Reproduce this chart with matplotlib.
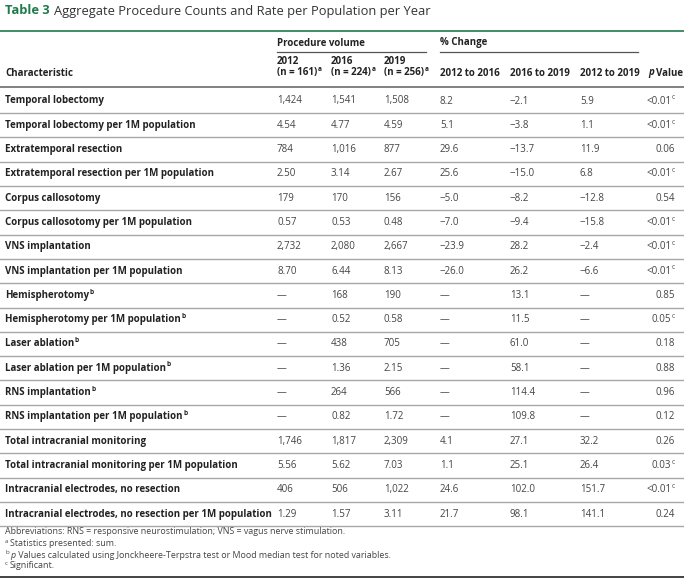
import matplotlib
matplotlib.use("Agg")
import matplotlib.pyplot as plt

# ---------------- data ----------------
title_num = "Table 3"
title_text = "Aggregate Procedure Counts and Rate per Population per Year"

characteristics = [
    "Temporal lobectomy",
    "Temporal lobectomy per 1M population",
    "Extratemporal resection",
    "Extratemporal resection per 1M population",
    "Corpus callosotomy",
    "Corpus callosotomy per 1M population",
    "VNS implantation",
    "VNS implantation per 1M population",
    "Hemispherotomy",
    "Hemispherotomy per 1M population",
    "Laser ablation",
    "Laser ablation per 1M population",
    "RNS implantation",
    "RNS implantation per 1M population",
    "Total intracranial monitoring",
    "Total intracranial monitoring per 1M population",
    "Intracranial electrodes, no resection",
    "Intracranial electrodes, no resection per 1M population",
]
char_notes = ["", "", "", "", "", "", "", "", "b", "b", "b", "b", "b", "b", "", "", "", ""]
is_rate = [False, True] * 9

vol_2012 = [1424, 4.54, 784, 2.50, 179, 0.57, 2732, 8.70, None, None, None, None, None, None, 1746, 5.56, 406, 1.29]
vol_2016 = [1541, 4.77, 1016, 3.14, 170, 0.53, 2080, 6.44, 168, 0.52, 438, 1.36, 264, 0.82, 1817, 5.62, 506, 1.57]
vol_2019 = [1508, 4.59, 877, 2.67, 156, 0.48, 2667, 8.13, 190, 0.58, 705, 2.15, 566, 1.72, 2309, 7.03, 1022, 3.11]
chg_12_16 = [8.2, 5.1, 29.6, 25.6, -5.0, -7.0, -23.9, -26.0, None, None, None, None, None, None, 4.1, 1.1, 24.6, 21.7]
chg_16_19 = [-2.1, -3.8, -13.7, -15.0, -8.2, -9.4, 28.2, 26.2, 13.1, 11.5, 61.0, 58.1, 114.4, 109.8, 27.1, 25.1, 102.0, 98.1]
chg_12_19 = [5.9, 1.1, 11.9, 6.8, -12.8, -15.8, -2.4, -6.6, None, None, None, None, None, None, 32.2, 26.4, 151.7, 141.1]
p_values = ["<0.01", "<0.01", "0.06", "<0.01", "0.54", "<0.01", "<0.01", "<0.01", "0.85", "0.05",
            "0.18", "0.88", "0.96", "0.12", "0.26", "0.03", "<0.01", "0.24"]
p_notes = ["c", "c", "", "c", "", "c", "c", "c", "", "c", "", "", "", "", "", "c", "c", ""]

group_headers = ["Procedure volume", "% Change"]
year_headers = ["2012", "2016", "2019"]
year_n = ["(n = 161)", "(n = 224)", "(n = 256)"]
change_headers = ["2012 to 2016", "2016 to 2019", "2012 to 2019"]

footnotes = [
    ("", "Abbreviations: RNS = responsive neurostimulation; VNS = vagus nerve stimulation."),
    ("a", "Statistics presented: sum."),
    ("b", "p Values calculated using Jonckheere-Terpstra test or Mood median test for noted variables."),
    ("c", "Significant."),
]

# ---------------- layout ----------------
W, H = 684, 581
fig = plt.figure(figsize=(W / 100, H / 100), dpi=100)
ax = fig.add_axes([0, 0, 1, 1])
ax.set_xlim(0, W)
ax.set_ylim(H, 0)
ax.axis("off")
plt.rcParams["font.family"] = ["Open Sans", "DejaVu Sans"]

GREEN = "#1f7a4c"
LBL = "#222222"
VAL = "#444444"
FS = 7.0
FS_SUP = 4.7
LW = "bold"
renderer = fig.canvas.get_renderer()


def width_px(t):
    bb = t.get_window_extent(renderer=renderer)
    return bb.width


def text_sup(x, y, s, sup, ha="left", weight="normal", color=LBL, fs=FS):
    if ha == "left":
        t = ax.text(x, y, s, ha="left", va="center", fontsize=fs, fontweight=weight, color=color)
        if sup:
            w = width_px(t)
            ax.text(x + w + 0.5, y - 3.3, sup, ha="left", va="center", fontsize=FS_SUP,
                    fontweight=weight, color=color)
    else:  # right aligned, sup included
        xr = x
        if sup:
            ts = ax.text(x, y - 3.3, sup, ha="right", va="center", fontsize=FS_SUP,
                         fontweight=weight, color=color)
            xr = x - width_px(ts) - 0.5
        ax.text(xr, y, s, ha="right", va="center", fontsize=fs, fontweight=weight, color=color)


# title
TFS = 9.3
t1 = ax.text(5, 11, title_num, ha="left", va="center", fontsize=TFS, fontweight="bold", color=GREEN)
ax.text(5 + width_px(t1) + 4, 11, title_text, ha="left", va="center", fontsize=TFS, color="#333333")
ax.plot([0, W], [31, 31], color=GREEN, lw=1.2, solid_capstyle="butt")

# columns
x_char = 5
x_years = [277, 331, 384]
x_chg = [440, 510, 580]
x_p_right = 675

# group headers
ax.text(x_years[0], 43, group_headers[0], ha="left", va="center", fontsize=FS, fontweight=LW, color=LBL)
ax.plot([x_years[0], 426], [52, 52], color="#555555", lw=0.9)
ax.text(x_chg[0], 43, group_headers[1], ha="left", va="center", fontsize=FS, fontweight=LW, color=LBL)
ax.plot([x_chg[0], 638], [52, 52], color="#555555", lw=0.9)

# column headers
ax.text(x_char, 73, "Characteristic", ha="left", va="center", fontsize=FS, fontweight=LW, color=LBL)
for x, yh, nh in zip(x_years, year_headers, year_n):
    ax.text(x, 62, yh, ha="left", va="center", fontsize=FS, fontweight=LW, color=LBL)
    text_sup(x, 73, nh, "a", weight=LW)
for x, ch in zip(x_chg, change_headers):
    ax.text(x, 73, ch, ha="left", va="center", fontsize=FS, fontweight=LW, color=LBL)
tp = ax.text(648, 73, "p", ha="left", va="center", fontsize=FS, fontweight=LW,
             fontstyle="italic", color=LBL)
ax.text(648 + width_px(tp) + 2.5, 73, "Value", ha="left", va="center", fontsize=FS,
        fontweight=LW, color=LBL)
ax.plot([0, W], [87, 87], color="#777777", lw=1.3)


def fmt_vol(v, rate):
    if v is None:
        return "\u2014"
    if rate:
        return f"{v:.2f}"
    return f"{int(v):,}"


def fmt_chg(v):
    if v is None:
        return "\u2014"
    s = f"{abs(v):.1f}"
    return ("\u2212" + s) if v < 0 else s


y0, dy = 101, 24.3
for i, name in enumerate(characteristics):
    y = y0 + i * dy
    text_sup(x_char, y, name, char_notes[i], weight=LW)
    for x, col in zip(x_years, [vol_2012, vol_2016, vol_2019]):
        ax.text(x, y, fmt_vol(col[i], is_rate[i]), ha="left", va="center", fontsize=FS, color=VAL)
    for x, col in zip(x_chg, [chg_12_16, chg_16_19, chg_12_19]):
        ax.text(x, y, fmt_chg(col[i]), ha="left", va="center", fontsize=FS, color=VAL)
    text_sup(x_p_right, y, p_values[i], p_notes[i], ha="right", color=VAL)
    if i < len(characteristics) - 1:
        ax.plot([0, W], [y + dy / 2, y + dy / 2], color="#a8a8a8", lw=1.0)
ax.plot([0, W], [y0 + 17 * dy + 12, y0 + 17 * dy + 12], color="#a8a8a8", lw=1.0)

# footnotes
FN = 6.4
fy = [532, 544, 555, 566]
for (mark, txt), yy in zip(footnotes, fy):
    x = 5
    if mark:
        tm = ax.text(x, yy - 2.5, mark, ha="left", va="center", fontsize=4.3, color=VAL)
        x += width_px(tm) + 1.5
    if txt.startswith("p "):
        tpp = ax.text(x, yy, "p", ha="left", va="center", fontsize=FN, fontstyle="italic", color=VAL)
        x += width_px(tpp) + 0.5
        txt = txt[1:]
    ax.text(x, yy, txt, ha="left", va="center", fontsize=FN, color=VAL)
ax.plot([0, W], [577, 577], color="#222222", lw=1.2)

fig.savefig("out.png", dpi=100)
